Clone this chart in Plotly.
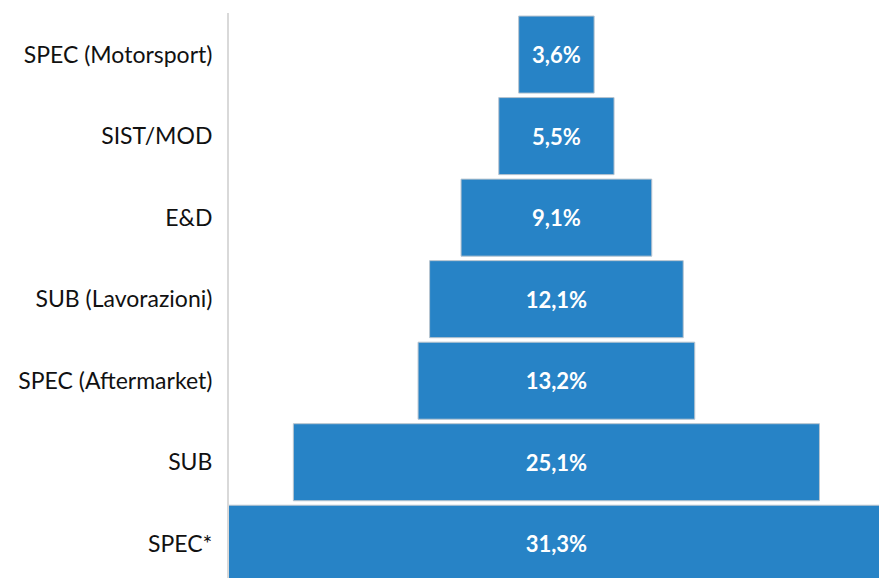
import plotly.graph_objects as go

categories = ['SPEC (Motorsport)', 'SIST/MOD', 'E&D', 'SUB (Lavorazioni)',
              'SPEC (Aftermarket)', 'SUB', 'SPEC*']
shares = [3.6, 5.5, 9.1, 12.1, 13.2, 25.1, 31.3]
labels = ['3,6%', '5,5%', '9,1%', '12,1%', '13,2%', '25,1%', '31,3%']

fig = go.Figure()

fig.add_trace(go.Funnel(
    y=categories,
    x=shares,
    text=labels,
    textinfo='text',
    textposition='inside',
    insidetextanchor='middle',
    textfont=dict(family='Lato', size=22, color='white', weight='bold'),
    marker=dict(color='#2783c6', line=dict(color='#b8c4cf', width=1)),
    connector=dict(visible=False),
    hoverinfo='y+text'
))

fig.update_layout(
    width=879,
    height=578,
    margin=dict(l=229, r=0, t=13, b=0),
    paper_bgcolor='white',
    plot_bgcolor='white',
    funnelgap=0.055,
    showlegend=False,
    font=dict(family='Lato', size=23, color='#111111'),
    xaxis=dict(visible=False, range=[-15.62, 15.39]),
    yaxis=dict(
        range=[6.42, -0.51],
        showline=True,
        linecolor='#d9d9d9',
        linewidth=2,
        showgrid=False,
        ticks='',
        ticklabelstandoff=10,
        tickfont=dict(family='Lato', size=23, color='#111111')
    )
)

# drop the default page margin so the figure fills the window exactly
fig.write_html("out.html",
               config={'displayModeBar': False},
               post_script="document.body.style.margin='0';document.body.style.overflow='hidden';")
